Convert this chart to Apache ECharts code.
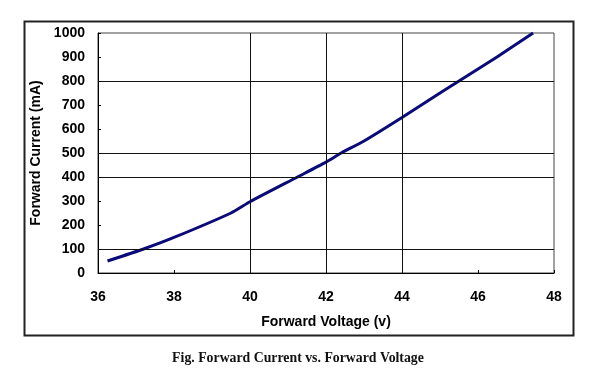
<!DOCTYPE html>
<html>
<head>
<meta charset="utf-8">
<script src="https://cdn.jsdelivr.net/npm/echarts@6/dist/echarts.min.js"></script>
<style>html,body{margin:0;padding:0;background:#fff;}#c{width:605px;height:372px;}</style>
</head>
<body>
<div id="c"></div>
<script>
var voltage = [36.25, 37.2, 38.0, 39.5, 40.0, 41.25, 42.0, 42.4, 43.0, 44.0, 45.0, 45.5, 46.5, 47.45];
var current = [50, 100, 148, 250, 297, 400, 462, 500, 550, 648, 750, 800, 900, 1000];
var gridX = [40, 42, 44];
var gridY = [100, 400, 500, 800];
var xTitle = 'Forward Voltage (v)';
var yTitle = 'Forward Current (mA)';
var caption = 'Fig. Forward Current vs. Forward Voltage';

var pts = voltage.map(function (v, i) { return [v, current[i]]; });
var marks = gridX.map(function (v) { return { xAxis: v }; })
  .concat(gridY.map(function (v) { return { yAxis: v }; }));

var chart = echarts.init(document.getElementById('c'));
var lbl = { fontFamily: 'Liberation Sans', fontWeight: 'bold', fontSize: 14, color: '#000' };
chart.setOption({
  animation: false,
  grid: { left: 98, right: 51, top: 33, bottom: 99, show: true, borderColor: '#444', borderWidth: 1 },
  graphic: [
    { type: 'rect', left: 22, top: 19, shape: { width: 549, height: 314 },
      style: { fill: 'none', stroke: '#222', lineWidth: 2 }, silent: true },
    { type: 'text', x: 298, y: 365,
      style: { text: caption, font: 'bold 13.8px "Liberation Serif"', fill: '#111',
               textAlign: 'center', textVerticalAlign: 'bottom' } }
  ],
  xAxis: {
    type: 'value', min: 36, max: 48, interval: 2,
    name: xTitle, nameLocation: 'middle', nameGap: 42,
    nameTextStyle: lbl,
    axisLine: { show: true, lineStyle: { color: '#000', width: 1 } },
    axisTick: { show: true, inside: true, length: 3, lineStyle: { color: '#000' } },
    axisLabel: Object.assign({ margin: 17 }, lbl),
    splitLine: { show: false }
  },
  yAxis: {
    type: 'value', min: 0, max: 1000, interval: 100,
    name: yTitle, nameLocation: 'middle', nameGap: 50,
    nameTextStyle: lbl,
    axisLine: { show: true, lineStyle: { color: '#000', width: 1 } },
    axisTick: { show: true, inside: true, length: 3, lineStyle: { color: '#000' } },
    axisLabel: Object.assign({ margin: 13, formatter: function (v) { return String(v); } }, lbl),
    splitLine: { show: false }
  },
  series: [{
    type: 'line', data: pts, showSymbol: false, smooth: 0.2,
    lineStyle: { color: '#0a0a78', width: 3 },
    markLine: {
      silent: true, symbol: 'none', label: { show: false },
      lineStyle: { color: '#111', width: 1, type: 'solid' },
      data: marks, animation: false
    },
    z: 3
  }]
});
</script>
</body>
</html>
